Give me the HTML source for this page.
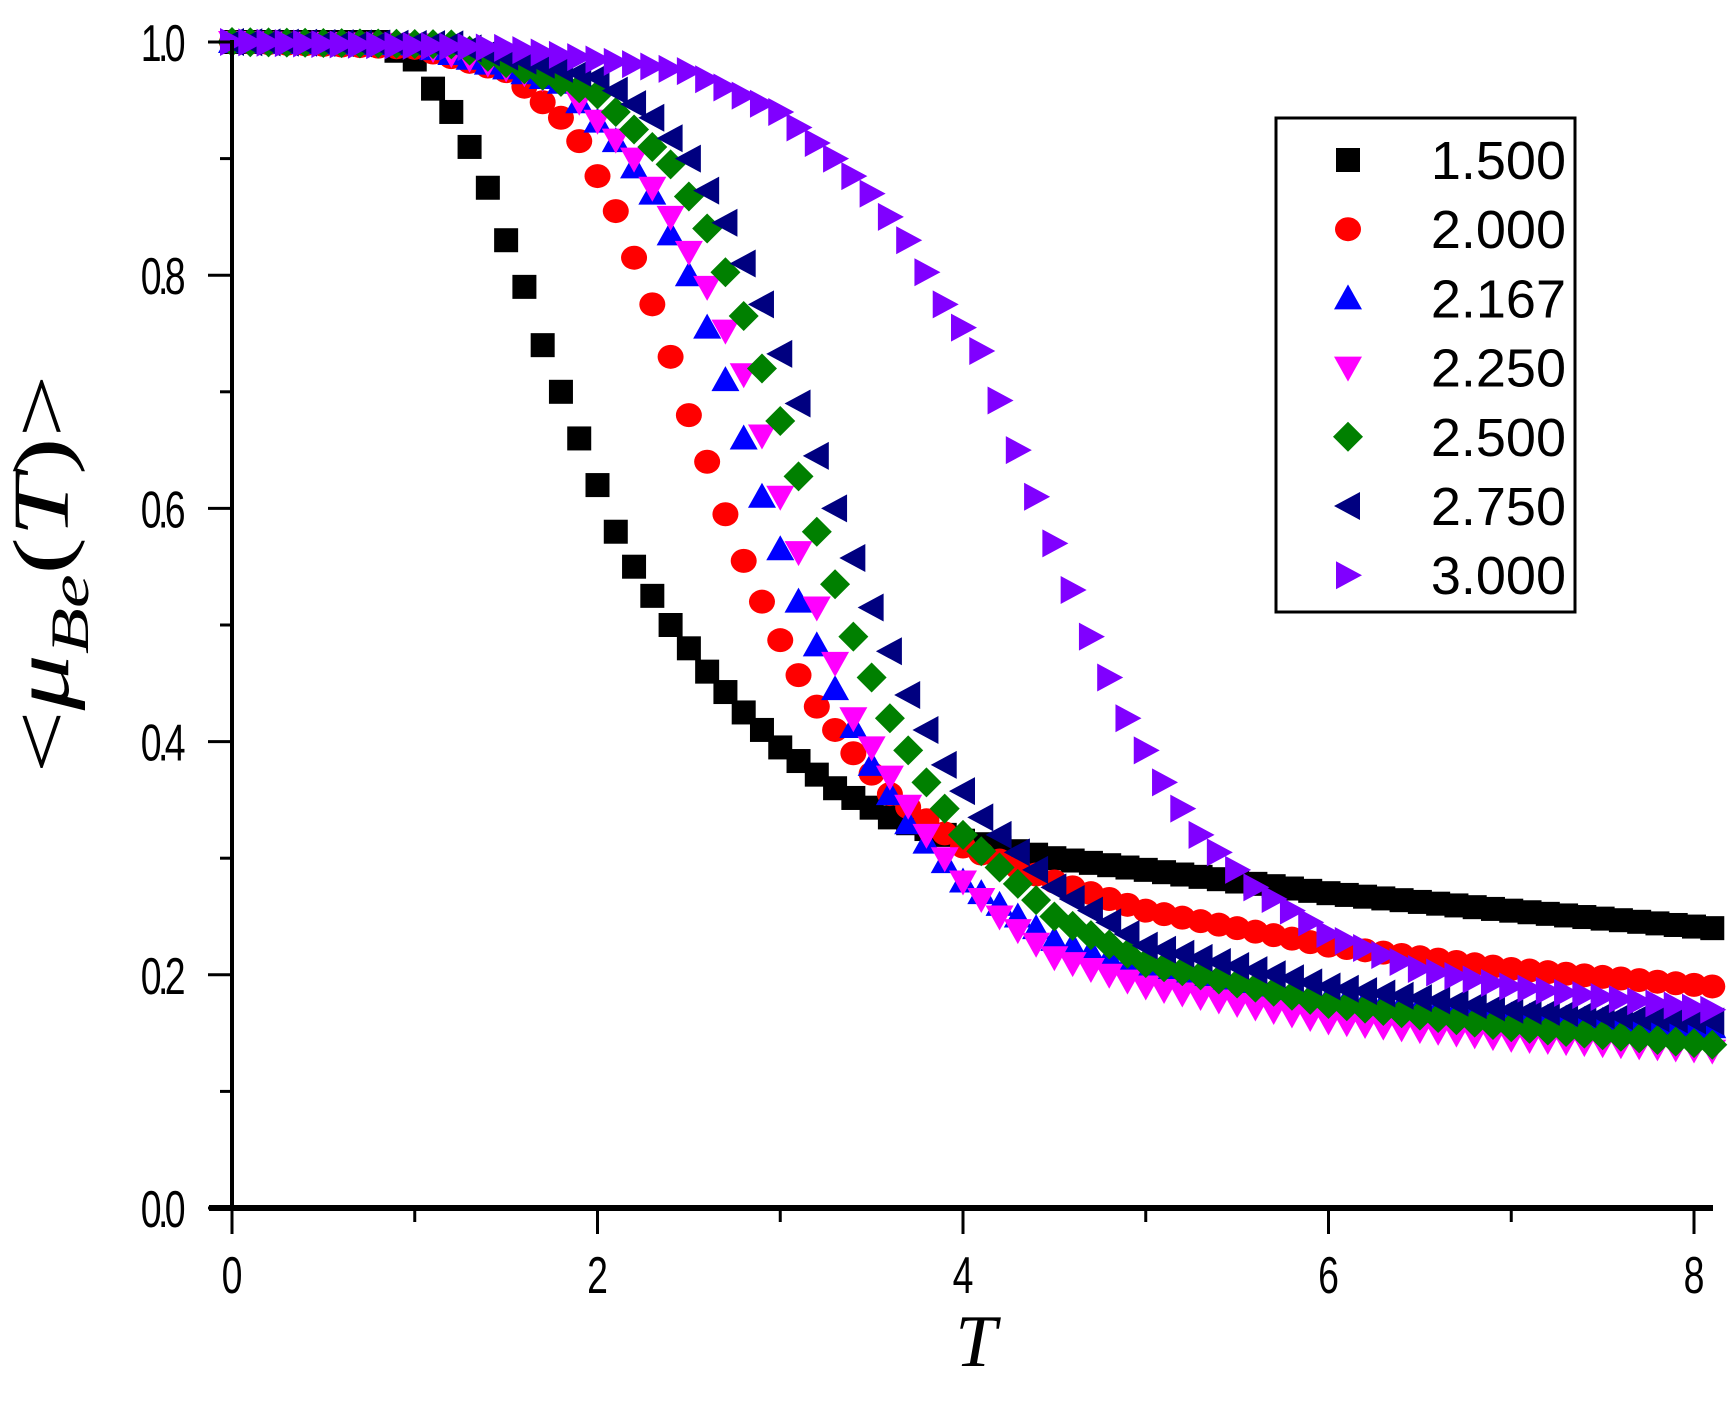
<!DOCTYPE html>
<html><head><meta charset="utf-8"><style>
html,body{margin:0;padding:0;background:#fff}
svg{display:block}
</style></head><body>
<svg id="s" width="1730" height="1404" xmlns="http://www.w3.org/2000/svg" font-family="Liberation Sans, sans-serif">
<rect width="1730" height="1404" fill="#fff"/>
<g id="data"></g>
<g stroke="#000" fill="none">
<line x1="232" y1="40" x2="232" y2="1210" stroke-width="4"/>
<line x1="209" y1="1208" x2="1713" y2="1208" stroke-width="6"/>
</g>
<g id="ticks" stroke="#000" stroke-width="3"></g>
<g id="labels" font-size="52" fill="#000"></g>
<text x="976" y="1366" font-family="Liberation Serif, serif" font-style="italic" font-size="74" text-anchor="middle">T</text>
<text transform="translate(68,574) rotate(-90) scale(1.4,1)" font-family="Liberation Serif, serif" font-size="80" text-anchor="middle">&lt;<tspan font-style="italic">μ</tspan><tspan font-style="italic" font-size="54" dy="20">Be</tspan><tspan dy="-20">(</tspan><tspan font-style="italic">T</tspan>)&gt;</text>
<rect x="1276" y="118" width="299" height="494" fill="#fff" stroke="#000" stroke-width="3"/>
<g id="legend" font-size="54" fill="#000" text-anchor="end"></g>
</svg>
<script>
const X=t=>232+t*182.75, Y=v=>1208-v*1166;
const ns="http://www.w3.org/2000/svg";
function el(p,tag,a){const e=document.createElementNS(ns,tag);for(const k in a)e.setAttribute(k,a[k]);p.appendChild(e);return e;}
const tk=document.getElementById('ticks'), lb=document.getElementById('labels');
for(let i=0;i<=8;i++){const x=X(i);el(tk,'line',{x1:x,y1:1208,x2:x,y2:i%2?1222:1234});
 if(i%2==0){const t=el(lb,'text',{transform:`translate(${x},1293) scale(0.72,1)`,'text-anchor':'middle'});t.textContent=i;}}
for(let i=0;i<=10;i++){const y=Y(i/10);el(tk,'line',{x1:232,y1:y,x2:i%2?220:208,y2:y});
 if(i%2==0){const t=el(lb,'text',{transform:`translate(182,${y+19}) scale(0.72,1)`,'text-anchor':'end','letter-spacing':'-5'});t.textContent=(i/10).toFixed(1);}}
const S={
k:[[0,1],[0.8,1],[1.0,0.985],[1.1,0.96],[1.2,0.94],[1.3,0.91],[1.4,0.875],[1.5,0.83],[1.6,0.79],[1.7,0.74],[1.8,0.70],[1.9,0.66],[2.0,0.62],[2.1,0.58],[2.2,0.55],[2.3,0.525],[2.4,0.5],[2.5,0.48],[2.6,0.46],[2.8,0.425],[3.0,0.395],[3.3,0.36],[3.6,0.335],[4.0,0.315],[4.5,0.30],[5,0.29],[6,0.27],[7,0.255],[8.1,0.24]],
r:[[0,1],[1,0.995],[1.5,0.975],[1.8,0.935],[1.9,0.915],[2.0,0.885],[2.1,0.855],[2.2,0.815],[2.3,0.775],[2.4,0.73],[2.5,0.68],[2.6,0.64],[2.7,0.595],[2.8,0.555],[2.9,0.52],[3.0,0.487],[3.1,0.457],[3.2,0.43],[3.3,0.41],[3.4,0.39],[3.6,0.355],[4.0,0.31],[4.5,0.28],[5,0.255],[6,0.225],[7,0.205],[8.1,0.19]],
b:[[0,1],[1,0.998],[1.8,0.965],[2.1,0.915],[2.3,0.87],[2.5,0.80],[2.7,0.71],[2.9,0.61],[3.1,0.52],[3.3,0.445],[3.5,0.38],[3.7,0.33],[4.0,0.28],[4.5,0.23],[5,0.205],[6,0.18],[7,0.165],[8.1,0.155]],
m:[[0,1],[1,0.998],[1.8,0.965],[2.2,0.90],[2.4,0.85],[2.6,0.79],[2.8,0.715],[3.0,0.61],[3.2,0.515],[3.4,0.42],[3.6,0.37],[3.8,0.32],[4.0,0.28],[4.2,0.25],[4.5,0.215],[5,0.19],[6,0.16],[7,0.145],[8.1,0.135]],
g:[[0,1],[1.2,0.998],[2.0,0.955],[2.4,0.895],[2.6,0.84],[2.8,0.765],[3.0,0.675],[3.2,0.58],[3.4,0.49],[3.6,0.42],[3.8,0.365],[4.0,0.32],[4.5,0.25],[5,0.21],[6,0.175],[7,0.155],[8.1,0.14]],
n:[[0,1],[1.2,0.998],[2.0,0.97],[2.3,0.935],[2.5,0.9],[2.7,0.845],[2.9,0.775],[3.1,0.69],[3.3,0.6],[3.5,0.515],[3.7,0.44],[3.9,0.38],[4.1,0.335],[4.5,0.275],[5,0.225],[6,0.19],[7,0.17],[8.1,0.16]],
p:[[0,1],[1.5,0.995],[2.5,0.975],[3.0,0.94],[3.3,0.9],[3.5,0.87],[3.7,0.83],[3.9,0.775],[4.1,0.735],[4.3,0.65],[4.5,0.57],[4.7,0.49],[4.9,0.42],[5.1,0.365],[5.3,0.32],[5.6,0.275],[6,0.235],[6.5,0.205],[7,0.19],[8.1,0.17]]};
function interp(a,t){for(let i=1;i<a.length;i++){if(t<=a[i][0]+1e-9){const[t0,v0]=a[i-1],[t1,v1]=a[i];return v0+(v1-v0)*(t-t0)/(t1-t0);}}return a[a.length-1][1];}
function mk(p,type,x,y){
 if(type=='k')return el(p,'rect',{x:x-12,y:y-12,width:24,height:24,fill:'#000'});
 if(type=='r')return el(p,'ellipse',{cx:x,cy:y,rx:13,ry:12,fill:'#f00'});
 let pts,c;
 if(type=='b'){pts=[[x,y-14],[x+14,y+11],[x-14,y+11]];c='#00f';}
 if(type=='m'){pts=[[x-14,y-11],[x+14,y-11],[x,y+14]];c='#f0f';}
 if(type=='g'){pts=[[x,y-15],[x+15,y],[x,y+15],[x-15,y]];c='#008000';}
 if(type=='n'){pts=[[x-14,y],[x+12,y-14],[x+12,y+14]];c='#000080';}
 if(type=='p'){pts=[[x-12,y-14],[x+14,y],[x-12,y+14]];c='#8000ff';}
 return el(p,'polygon',{points:pts.map(q=>q.join(',')).join(' '),fill:c});}
const dg=document.getElementById('data');
for(const k of ['k','r','b','m','g','n','p']){for(let i=0;i<=81;i++){const t=i/10;mk(dg,k,X(t),Y(interp(S[k],t)));}}
const lg=document.getElementById('legend');
const names=['1.500','2.000','2.167','2.250','2.500','2.750','3.000'];
['k','r','b','m','g','n','p'].forEach((k,i)=>{const y=160+i*69.2;mk(lg,k,1348,y);const t=el(lg,'text',{x:1566,y:y+19});t.textContent=names[i];});
</script>
</body></html>
